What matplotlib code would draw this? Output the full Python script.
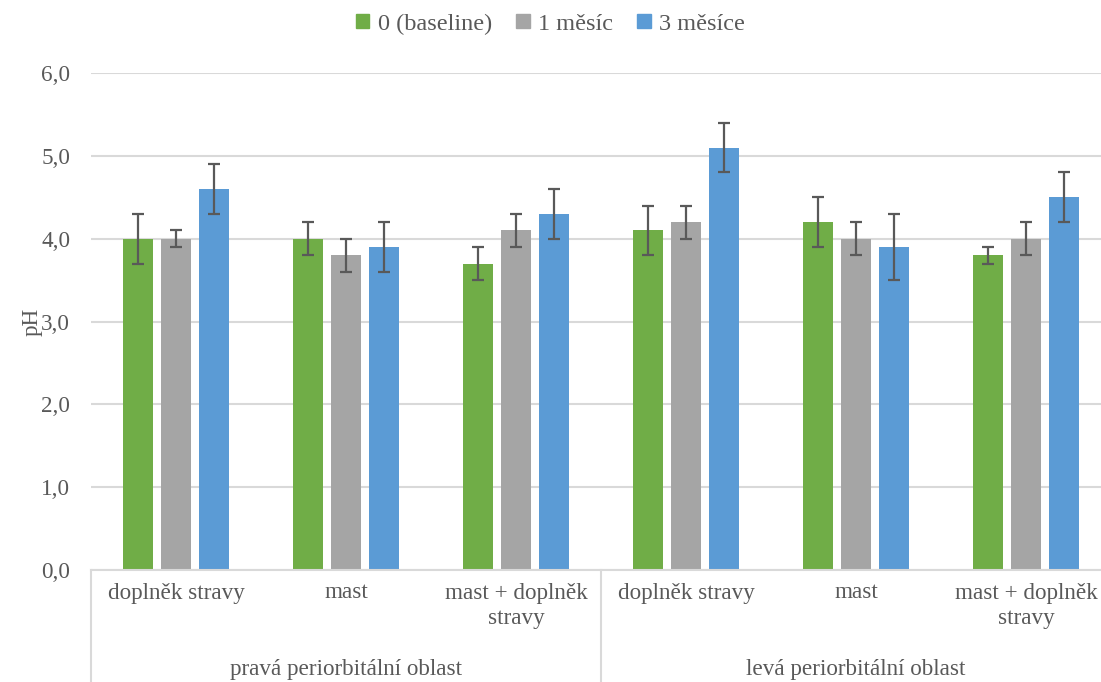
import numpy as np
import matplotlib.pyplot as plt
from matplotlib.patches import Patch
from matplotlib.font_manager import FontProperties, findfont
import matplotlib.transforms as mtransforms

# data
categories = ["doplněk stravy", "mast", "mast + doplněk\nstravy",
              "doplněk stravy", "mast", "mast + doplněk\nstravy"]
groups = ["pravá periorbitální oblast", "levá periorbitální oblast"]
series = ["0 (baseline)", "1 měsíc", "3 měsíce"]
baseline = [4.0, 4.0, 3.7, 4.1, 4.2, 3.8]
baseline_err = [0.3, 0.2, 0.2, 0.3, 0.3, 0.1]
mesic1 = [4.0, 3.8, 4.1, 4.2, 4.0, 4.0]
mesic1_err = [0.1, 0.2, 0.2, 0.2, 0.2, 0.2]
mesic3 = [4.6, 3.9, 4.3, 5.1, 3.9, 4.5]
mesic3_err = [0.3, 0.3, 0.3, 0.3, 0.4, 0.3]
colors = ["#70AD47", "#A5A5A5", "#5B9BD5"]

text_col = "#595959"
grid_col = "#D9D9D9"
fs = 16.7
fpath = findfont(FontProperties(family="Liberation Serif"))
fp = FontProperties(fname=fpath, size=fs)
fp_leg = FontProperties(fname=fpath, size=17.5)

fig = plt.figure(figsize=(11.01, 6.82), dpi=100)
ax = fig.add_axes([91 / 1101, 1 - 570 / 682, 1 - 91 / 1101, 497 / 682])

x = np.arange(len(categories))
w = 30 / 170
step = 38 / 170
for i, (vals, errs) in enumerate([(baseline, baseline_err), (mesic1, mesic1_err), (mesic3, mesic3_err)]):
    ax.bar(x + (i - 1) * step, vals, w, color=colors[i], zorder=2,
           yerr=errs, error_kw=dict(ecolor="#595959", elinewidth=1.6, capsize=4.5, capthick=1.6, zorder=3))

ax.set_ylim(0, 6)
ax.set_xlim(-0.5, (1101 - 91) / 170 - 0.5)
ax.set_yticks(np.arange(0, 7, 1))
ax.set_yticklabels([f"{v:.1f}".replace(".", ",") for v in range(7)], fontproperties=fp, color=text_col)
ax.yaxis.grid(True, color=grid_col, linewidth=1.5, zorder=0)
ax.tick_params(axis='y', length=0, pad=15)
ax.tick_params(axis='x', length=0, pad=9)
ax.set_xticks(x)
ax.set_xticklabels(categories, fontproperties=fp, color=text_col, linespacing=1.3)
for s in ["top", "right", "left"]:
    ax.spines[s].set_visible(False)
ax.spines["bottom"].set_color(grid_col)
ax.spines["bottom"].set_linewidth(1.5)
ax.set_ylabel("pH", fontproperties=fp, color=text_col, va="center")
ax.yaxis.set_label_coords((32 - 91) / 1010, 0.5)

# group separators and labels
trans = mtransforms.blended_transform_factory(ax.transData, ax.transAxes)
for b in [-0.5, 2.5, 5.5]:
    ax.plot([b, b], [0, -0.23], transform=trans, color=grid_col, linewidth=1.5, clip_on=False)
for gi, g in enumerate(groups):
    ax.text(gi * 3 + 1, -0.2, g, transform=trans, ha="center", va="center",
            fontproperties=fp, color=text_col)

handles = [Patch(color=c) for c in colors]
fig.legend(handles, series, loc="center", bbox_to_anchor=(0.5, 1 - 24 / 682), ncol=3,
           frameon=False, prop=fp_leg, labelcolor=text_col,
           handlelength=0.55, handleheight=0.55, handletextpad=0.35, columnspacing=1.0)

fig.savefig("out.png", dpi=100)
